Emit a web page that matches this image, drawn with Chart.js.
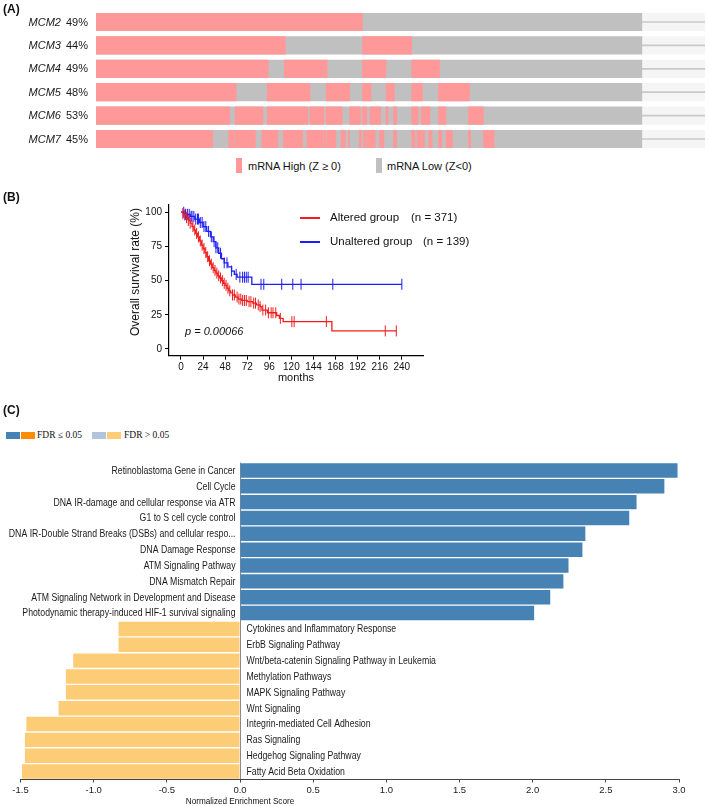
<!DOCTYPE html>
<html>
<head>
<meta charset="utf-8">
<script src="https://cdn.jsdelivr.net/npm/chart.js@4.4.0/dist/chart.umd.min.js"></script>
<style>
  body { margin: 0; background: #fff; }
  #wrap { position: relative; width: 709px; height: 806px; overflow: hidden; background: #fff;
          font-family: "Liberation Sans", Arial, sans-serif; color: #111; }
  canvas { position: absolute; }
  #onco { left: 0px; top: 0px; }
  #km { left: 0px; top: 190px; }
  #gsea { left: 0px; top: 450px; }
  .t { position: absolute; white-space: nowrap; line-height: 1; }
  .sw { position: absolute; }
  .panel { font-weight: bold; font-size: 12px; }
</style>
</head>
<body>
<div id="wrap">
  <canvas id="onco" width="709" height="152"></canvas>
  <canvas id="km" width="440" height="200"></canvas>
  <canvas id="gsea" width="709" height="356"></canvas>

  <div class="t panel" style="left:3px;top:3px">(A)</div>
  <div class="t panel" style="left:3px;top:191px">(B)</div>
  <div class="t panel" style="left:3px;top:404px">(C)</div>

  <!-- legend A -->
  <div class="sw" style="left:236px;top:158px;width:6px;height:15px;background:#ff9999"></div>
  <div class="t" style="left:248px;top:160.5px;font-size:11px">mRNA High (Z ≥ 0)</div>
  <div class="sw" style="left:376px;top:158px;width:6px;height:15px;background:#c0c0c0"></div>
  <div class="t" style="left:387px;top:160.5px;font-size:11px">mRNA Low (Z&lt;0)</div>

  <!-- legend B -->
  <div class="sw" style="left:300px;top:217px;width:20px;height:2px;background:#f01e1e"></div>
  <div class="t" style="left:330px;top:212px;font-size:11.5px">Altered group</div>
  <div class="t" style="left:411px;top:212px;font-size:11.5px">(n = 371)</div>
  <div class="sw" style="left:300px;top:241px;width:20px;height:2px;background:#1e1ef5"></div>
  <div class="t" style="left:330px;top:235.5px;font-size:11.5px">Unaltered group</div>
  <div class="t" style="left:423px;top:235.5px;font-size:11.5px">(n = 139)</div>
  <div class="t" style="left:185px;top:326px;font-size:11px;font-style:italic">p = 0.00066</div>
  <div class="t" style="left:296px;top:371.5px;font-size:11px;transform:translateX(-50%)">months</div>
  <div class="t" style="left:135px;top:271.5px;font-size:12px;transform:translate(-50%,-50%) rotate(-90deg)">Overall survival rate (%)</div>

  <!-- legend C -->
  <div class="sw" style="left:6px;top:432px;width:14px;height:7px;background:#4682b4"></div>
  <div class="sw" style="left:21px;top:432px;width:14px;height:7px;background:#ff8c00"></div>
  <div class="t" style="left:37px;top:431px;font-size:9.5px;font-family:'Liberation Serif',serif">FDR ≤ 0.05</div>
  <div class="sw" style="left:92px;top:432px;width:14px;height:7px;background:#b0c4de"></div>
  <div class="sw" style="left:107px;top:432px;width:14px;height:7px;background:#fdcc76"></div>
  <div class="t" style="left:124px;top:431px;font-size:9.5px;font-family:'Liberation Serif',serif">FDR &gt; 0.05</div>
  <div class="t" style="left:240px;top:795.5px;font-size:9.5px;transform:translateX(-50%) scaleX(0.86)">Normalized Enrichment Score</div>
</div>

<script>
// ---- (A) oncoprint data: sample index ranges with mRNA high (Z >= 0)
const genes = ['MCM2', 'MCM3', 'MCM4', 'MCM5', 'MCM6', 'MCM7'];
const alteredPct = ['49%', '44%', '49%', '48%', '53%', '45%'];
const nSamples = 510;
const nShown = 569;
const mcm2High = [[0, 249]];
const mcm3High = [[0, 177], [249, 295]];
const mcm4High = [[0, 161], [176, 216], [249, 271], [295, 321]];
const mcm5High = [[0, 131], [160, 200], [215, 237], [249, 257], [271, 279], [295, 305], [320, 349]];
const mcm6High = [[0, 125], [130, 156], [160, 198], [200, 213], [215, 230], [237, 247], [249, 253],
                  [256, 266], [271, 273], [278, 281], [295, 301], [304, 312], [320, 327], [348, 362]];
const mcm7High = [[0, 109], [124, 129], [130, 149], [155, 170], [175, 193], [197, 212], [213, 215],
                  [216, 224], [229, 233], [236, 237], [246, 248], [250, 252], [253, 261], [265, 269],
                  [278, 281], [295, 298], [300, 304], [305, 307], [311, 314], [320, 323], [327, 333],
                  [348, 350], [362, 372]];
const highSegments = [mcm2High, mcm3High, mcm4High, mcm5High, mcm6High, mcm7High];

// ---- (B) Kaplan-Meier data: [months, survival %]
const alteredMonths = [0, 2, 4, 6, 8, 10, 12, 14, 16, 18, 20, 22, 24, 26, 28, 30, 32, 34, 36, 38, 40, 42,
                       44, 46, 48, 50, 52, 54, 56, 59, 62, 66, 72, 78, 82, 86, 88, 94, 104, 107, 111, 164, 234];
const alteredSurv = [100, 99, 98, 96, 94, 92, 89.5, 87, 84.5, 82, 79, 76, 73.5, 70.5, 67.5, 64.5, 62, 59.5, 57.5,
                     55.5, 53.5, 52, 50, 48, 46.5, 44.5, 42.5, 41, 39.5, 38, 36.5, 35.5, 34.6, 33.5, 32.2, 31,
                     28.5, 26.5, 24.5, 22.4, 20, 13.2, 13.2];
const unalteredMonths = [0, 5, 10, 15, 20, 24, 28, 32, 35, 38, 41, 44, 47, 51, 55, 58, 61, 77, 240];
const unalteredSurv = [100, 98.5, 97, 95, 92.5, 89.5, 86, 82, 78.5, 74, 70, 66, 63, 60, 57, 54.5, 52.5, 47.3, 47.3];
const alteredCensor = [2, 4, 6, 8, 10, 13, 15, 17, 19, 21, 23, 25, 27, 29, 31, 33, 35, 37, 39, 41, 43, 45, 47,
                       49, 51, 53, 56, 58, 61, 63, 65, 67, 69, 71, 74, 76, 79, 81, 84, 86, 89, 92, 95, 98, 100,
                       103, 108, 120.5, 123, 158, 222, 234];
const unalteredCensor = [3, 5, 7, 9, 11, 12, 14, 16, 18, 19, 21, 23, 25, 27, 30, 33, 36, 38, 40, 43, 47, 50,
                         55, 60, 64, 67, 69, 71, 73, 87, 90, 109.5, 121.5, 130.5, 165, 240];
const kmXTicks = [0, 24, 48, 72, 96, 120, 144, 168, 192, 216, 240];
const kmYTicks = [0, 25, 50, 75, 100];

// ---- (C) enrichment
const pathways = [
  'Retinoblastoma Gene in Cancer',
  'Cell Cycle',
  'DNA IR-damage and cellular response via ATR',
  'G1 to S cell cycle control',
  'DNA IR-Double Strand Breaks (DSBs) and cellular respo...',
  'DNA Damage Response',
  'ATM Signaling Pathway',
  'DNA Mismatch Repair',
  'ATM Signaling Network in Development and Disease',
  'Photodynamic therapy-induced HIF-1 survival signaling',
  'Cytokines and Inflammatory Response',
  'ErbB Signaling Pathway',
  'Wnt/beta-catenin Signaling Pathway in Leukemia',
  'Methylation Pathways',
  'MAPK Signaling Pathway',
  'Wnt Signaling',
  'Integrin-mediated Cell Adhesion',
  'Ras Signaling',
  'Hedgehog Signaling Pathway',
  'Fatty Acid Beta Oxidation'
];
const nes = [2.99, 2.90, 2.71, 2.66, 2.36, 2.34, 2.245, 2.21, 2.12, 2.01,
             -0.83, -0.83, -1.14, -1.19, -1.19, -1.24, -1.46, -1.47, -1.47, -1.49];
const nesTicks = [-1.5, -1.0, -0.5, 0, 0.5, 1.0, 1.5, 2.0, 2.5, 3.0];

Chart.defaults.font.family = '"Liberation Sans", Arial, sans-serif';
Chart.defaults.color = '#111';

// ---------- (A)
const oncoLabels = {
  id: 'oncoLabels',
  afterDraw(chart) {
    const ctx = chart.ctx, ys = chart.scales.y;
    ctx.save();
    ctx.fillStyle = '#1a1a1a';
    ctx.textBaseline = 'middle';
    ctx.textAlign = 'right';
    genes.forEach((g, i) => {
      const y = ys.getPixelForValue(i) + 0.5;
      ctx.font = '11px "Liberation Sans", Arial, sans-serif';
      ctx.fillText(alteredPct[i], 88, y);
      const w = ctx.measureText(alteredPct[i]).width;
      ctx.font = 'italic 11px "Liberation Sans", Arial, sans-serif';
      ctx.fillText(g, 88 - w - 5, y);
    });
    ctx.restore();
  }
};

const highData = [];
highSegments.forEach((segs, i) => segs.forEach(s => highData.push({ y: genes[i], x: s })));

new Chart(document.getElementById('onco'), {
  type: 'bar',
  data: {
    labels: genes,
    datasets: [
      { data: highData, backgroundColor: '#ff9999', barThickness: 17.5, order: 0 },
      { data: genes.map(g => ({ y: g, x: [0, nSamples] })), backgroundColor: '#c0c0c0', barThickness: 17.5, order: 1 },
      { data: genes.map(g => ({ y: g, x: [nSamples, nShown] })), backgroundColor: '#c9c9c9', barThickness: 1, order: 2 },
      { data: genes.map(g => ({ y: g, x: [nSamples, nShown] })), backgroundColor: '#f5f5f5', barThickness: 17.5, order: 3 }
    ]
  },
  options: {
    indexAxis: 'y',
    responsive: false,
    animation: false,
    devicePixelRatio: 1,
    grouped: false,
    layout: { padding: { left: 96, right: 4, top: 10.3, bottom: 1.3 } },
    scales: {
      x: { display: false, min: 0, max: nShown },
      y: { display: false }
    },
    plugins: { legend: { display: false }, tooltip: { enabled: false } }
  },
  plugins: [oncoLabels]
});

// ---------- (B)
function survAt(months, surv, t) {
  let v = surv[0];
  for (let i = 0; i < months.length; i++) if (months[i] <= t) v = surv[i];
  return v;
}
const red = '#f01e1e', blue = '#1e1ef5';
const toPts = (xs, ys) => xs.map((x, i) => ({ x: x, y: ys[i] }));

new Chart(document.getElementById('km'), {
  type: 'line',
  data: {
    datasets: [
      { data: toPts(alteredMonths, alteredSurv), borderColor: red, borderWidth: 1.3, stepped: true, pointRadius: 0, fill: false },
      { data: alteredCensor.map(t => ({ x: t, y: survAt(alteredMonths, alteredSurv, t) })), showLine: false,
        pointStyle: 'line', pointRotation: 90, pointRadius: 5.5, pointBorderColor: red, pointBorderWidth: 1 },
      { data: toPts(unalteredMonths, unalteredSurv), borderColor: blue, borderWidth: 1.3, stepped: true, pointRadius: 0, fill: false },
      { data: unalteredCensor.map(t => ({ x: t, y: survAt(unalteredMonths, unalteredSurv, t) })), showLine: false,
        pointStyle: 'line', pointRotation: 90, pointRadius: 5.5, pointBorderColor: blue, pointBorderWidth: 1 }
    ]
  },
  options: {
    responsive: false,
    animation: false,
    devicePixelRatio: 1,
    clip: false,
    layout: { padding: { left: 0, right: 17, top: 15, bottom: 0 } },
    scales: {
      x: {
        type: 'linear', min: -13, max: 263,
        afterBuildTicks: s => { s.ticks = kmXTicks.map(v => ({ value: v })); },
        afterFit: s => { s.height = 34.3; },
        grid: { drawOnChartArea: false, color: '#000', tickLength: 4 },
        border: { display: true, color: '#000', width: 1.2 },
        ticks: { font: { size: 10 }, color: '#111', padding: 2, maxRotation: 0 }
      },
      y: {
        type: 'linear', min: -4.9, max: 105.3,
        afterBuildTicks: s => { s.ticks = kmYTicks.map(v => ({ value: v })); },
        afterFit: s => { s.width = 169; },
        grid: { drawOnChartArea: false, color: '#000', tickLength: 4 },
        border: { display: true, color: '#000', width: 1.2 },
        ticks: { font: { size: 10 }, color: '#111', padding: 3 }
      }
    },
    plugins: { legend: { display: false }, tooltip: { enabled: false } }
  }
});

// ---------- (C)
const pathLabels = {
  id: 'pathLabels',
  afterDatasetsDraw(chart) {
    const ctx = chart.ctx, xs = chart.scales.x, ys = chart.scales.y;
    const x0 = xs.getPixelForValue(0);
    ctx.save();
    ctx.font = '10.5px "Liberation Sans", Arial, sans-serif';
    ctx.fillStyle = '#1a1a1a';
    ctx.textBaseline = 'middle';
    pathways.forEach((p, i) => {
      const y = ys.getPixelForValue(i) + 0.5;
      const right = nes[i] >= 0;
      ctx.save();
      ctx.translate(right ? x0 - 4.5 : x0 + 6.5, y);
      ctx.scale(0.83, 1);  // condensed, like the narrow face in the figure
      ctx.textAlign = right ? 'right' : 'left';
      ctx.fillText(p, 0, 0);
      ctx.restore();
    });
    ctx.restore();
  }
};

new Chart(document.getElementById('gsea'), {
  type: 'bar',
  data: {
    labels: pathways,
    datasets: [{
      data: nes,
      backgroundColor: nes.map(v => v >= 0 ? '#4682b4' : '#fdcc76'),
      barPercentage: 0.91,
      categoryPercentage: 1
    }]
  },
  options: {
    indexAxis: 'y',
    responsive: false,
    animation: false,
    devicePixelRatio: 1,
    layout: { padding: { left: 20.5, right: 30, top: 12.5, bottom: 0 } },
    scales: {
      x: {
        min: -1.5, max: 3.0,
        afterBuildTicks: s => { s.ticks = nesTicks.map(v => ({ value: v })); },
        afterFit: s => { s.height = 26.5; },
        grid: {
          color: c => (c.tick && c.tick.value === 0) ? '#8a8a8a' : 'rgba(0,0,0,0)',
          tickColor: '#444', tickLength: 3
        },
        border: { display: true, color: '#444', width: 1 },
        ticks: { font: { size: 9.5 }, color: '#222', padding: 2, maxRotation: 0,
                 callback: v => v.toFixed(1) }
      },
      y: { display: false }
    },
    plugins: { legend: { display: false }, tooltip: { enabled: false } }
  },
  plugins: [pathLabels]
});
</script>
</body>
</html>
